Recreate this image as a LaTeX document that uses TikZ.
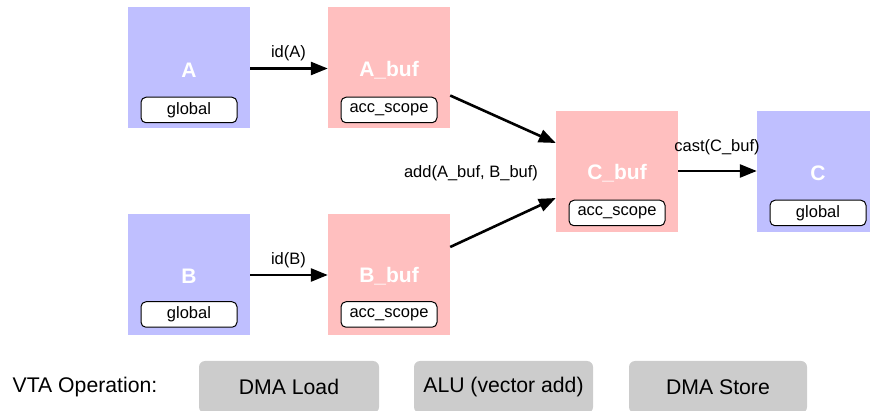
\documentclass[tikz,border=0pt]{standalone}
\usepackage{fontspec}
\setmainfont{Liberation Sans}
\usetikzlibrary{arrows.meta}
\definecolor{memblue}{HTML}{BFBFFF}
\definecolor{mempink}{HTML}{FFBFBF}
\definecolor{opgray}{HTML}{CCCCCC}
\tikzset{
  membox/.style={minimum width=122pt, minimum height=121pt, inner sep=0pt, draw=none},
  title/.style={text=white, font=\fontsize{21}{25}\selectfont\bfseries, inner sep=0pt},
  pill/.style={draw=black, line width=1pt, fill=white, rounded corners=5pt, minimum width=96pt, minimum height=25.5pt, inner sep=0pt, font=\fontsize{16.5}{19}\selectfont},
  lbl/.style={font=\fontsize{16.5}{19}\selectfont, inner sep=0pt},
  conn/.style={line width=2.6pt, -{Triangle[length=17pt,width=13pt]}},
  opbox/.style={fill=opgray, rounded corners=6pt, minimum height=52pt, inner sep=0pt, font=\fontsize{21.2}{25}\selectfont},
}
\begin{document}
\begin{tikzpicture}[x=1pt,y=-1pt]
\useasboundingbox (0,0) rectangle (870,411);
\clip (0,0) rectangle (870,411);
% boxes
\node[membox, fill=memblue] (A) at (189,67.5) {};
\node[title] (At) at (189,70) {A};
\node[pill] (Ap) at (189,110) {global};
\node[membox, fill=mempink] (Abuf) at (389,67.5) {};
\node[title] (Abuft) at (389,70) {A\_buf};
\node[pill] (Abufp) at (389,110) {acc\_scope};
\node[membox, fill=memblue] (B) at (189,275) {};
\node[title] (Bt) at (189,276) {B};
\node[pill] (Bp) at (189,314.5) {global};
\node[membox, fill=mempink] (Bbuf) at (389,275) {};
\node[title] (Bbuft) at (389,276) {B\_buf};
\node[pill] (Bbufp) at (389,314.5) {acc\_scope};
\node[membox, fill=mempink] (Cbuf) at (617,172) {};
\node[title] (Cbuft) at (617,173) {C\_buf};
\node[pill] (Cbufp) at (617,213) {acc\_scope};
\node[membox, fill=memblue] (C) at (818,172) {};
\node[title] (Ct) at (818,173) {C};
\node[pill] (Cp) at (818,213) {global};
% connectors
\draw[conn] ([yshift=-1pt]A.east) -- ([yshift=-1pt]Abuf.west);
\draw[conn] ([yshift=0pt]B.east) -- ([yshift=0pt]Bbuf.west);
\draw[conn] ([yshift=-28pt]Abuf.east) -- ([yshift=29pt]Cbuf.west);
\draw[conn] ([yshift=28pt]Bbuf.east) -- ([yshift=-26pt]Cbuf.west);
\draw[conn] ([yshift=1pt]Cbuf.east) -- ([yshift=1pt]C.west);
% labels
\node[lbl] (lA) at (288.5,53) {id(A)};
\node[lbl] (lB) at (288.5,260) {id(B)};
\node[lbl] (lC) at (717,147) {cast(C\_buf)};
\node[lbl] (lAdd) at (471,173) {add(A\_buf, B\_buf)};
% VTA operation row
\node[font=\fontsize{21.2}{25}\selectfont, inner sep=0pt, anchor=west] (vta) at (12.5,387) {VTA Operation:};
\node[opbox, minimum width=180pt] (dmal) at (289,387) {DMA Load};
\node[opbox, minimum width=179pt] (alu) at (503.5,387) {ALU (vector add)};
\node[opbox, minimum width=178pt] (dmas) at (718,387) {DMA Store};
\end{tikzpicture}
\end{document}
